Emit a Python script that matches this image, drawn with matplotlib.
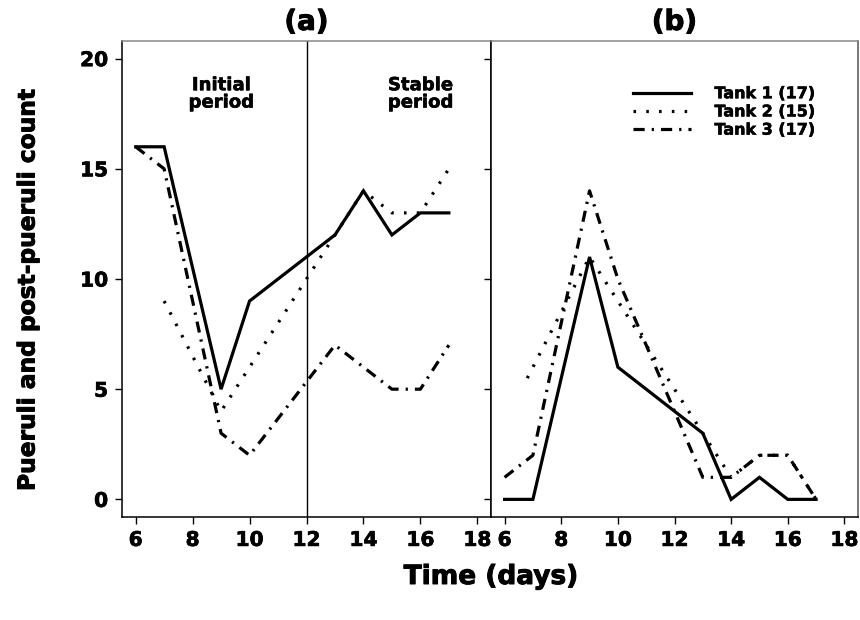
import numpy as np
import matplotlib.pyplot as plt
import matplotlib.patheffects as pe

plt.rcParams['font.family'] = ['DejaVu Sans']
plt.rcParams['font.weight'] = 'bold'

# panel (a)
a_days1 = [6, 7, 9, 10, 13, 14, 15, 16, 17]
a_tank1 = [16, 16, 5, 9, 12, 14, 12, 13, 13]
a_days2 = [7, 9, 12, 13, 14, 15, 16, 17]
a_tank2 = [9, 4, 10, 12, 14, 13, 13, 15]
a_days3 = [6, 7, 9, 10, 13, 15, 16, 17]
a_tank3 = [16, 15, 3, 2, 7, 5, 5, 7]

# panel (b)
b_days1 = [6, 7, 9, 10, 13, 14, 15, 16, 17]
b_tank1 = [0, 0, 11, 6, 3, 0, 1, 0, 0]
b_days2 = [6.8, 9, 10, 13, 14, 15, 16, 17]
b_tank2 = [5.5, 11, 9, 3, 1, 2, 2, 0]
b_days3 = [6, 7, 9, 10, 13, 14, 15, 16, 17]
b_tank3 = [1, 2, 14, 10, 1, 1, 2, 2, 0]

labels = ['Tank 1 (17)', 'Tank 2 (15)', 'Tank 3 (17)']
xticks = [6, 8, 10, 12, 14, 16, 18]
yticks = [0, 5, 10, 15, 20]

styles = ['-', (0, (0.8, 3.2)), (0, (3.5, 2.2, 0.7, 2.2))]

def heavy(w):
    return [pe.withStroke(linewidth=w, foreground='black')]

fig = plt.figure(figsize=(8.6, 6.2), dpi=100)
ax1 = fig.add_axes([122/860, 1-517/620, 369/860, 476/620])
ax2 = fig.add_axes([491/860, 1-517/620, 367/860, 476/620])

for ax, data in [(ax1, [(a_days1, a_tank1), (a_days2, a_tank2), (a_days3, a_tank3)]),
                 (ax2, [(b_days1, b_tank1), (b_days2, b_tank2), (b_days3, b_tank3)])]:
    for (d, v), ls, lab in zip(data, styles, labels):
        ax.plot(d, v, color='black', linestyle=ls, linewidth=2.3, label=lab,
                solid_joinstyle='miter')
    ax.set_xlim(5.52, 18.48)
    ax.set_ylim(-0.8, 20.8)
    ax.set_xticks(xticks)
    ax.set_yticks(yticks)
    ax.tick_params(direction='out', length=5, width=1, labelsize=14.5, pad=5)
    ax.spines['top'].set_color('#888888')
    ax.spines['right'].set_color('#555555')
    for s in ax.spines.values():
        s.set_linewidth(1.1)
    for lbl in ax.get_xticklabels() + ax.get_yticklabels():
        lbl.set_fontweight('bold')
        lbl.set_path_effects(heavy(0.5))

ax1.spines['right'].set_color('black')
ax2.tick_params(axis='y', labelleft=False)
ax1.axvline(12, color='black', linewidth=1)

for x, s in [(9, 'Initial\nperiod'), (16, 'Stable\nperiod')]:
    ax1.text(x, 18.4, s, ha='center', va='center', fontsize=13,
             fontweight='bold', linespacing=0.95, path_effects=heavy(0.4))

ax1.set_title('(a)', fontsize=20, fontweight='bold', pad=8, path_effects=heavy(0.7))
ax2.set_title('(b)', fontsize=20, fontweight='bold', pad=8, path_effects=heavy(0.7))

leg = ax2.legend(loc='upper left', bbox_to_anchor=(0.387, 0.905), frameon=False,
                 fontsize=11.5, handlelength=3.6, handletextpad=1.5,
                 labelspacing=0.2, borderpad=0, borderaxespad=0)
for t in leg.get_texts():
    t.set_fontweight('bold')
    t.set_path_effects(heavy(0.4))

fig.text(28/860, 1-289/620, 'Pueruli and post-pueruli count', rotation=90,
         ha='center', va='center', fontsize=16.8, fontweight='bold',
         path_effects=heavy(0.7))
fig.text(491/860, 1-577/620, 'Time (days)', ha='center', va='center',
         fontsize=19, fontweight='bold', path_effects=heavy(0.7))

plt.savefig('out.png', dpi=100)
